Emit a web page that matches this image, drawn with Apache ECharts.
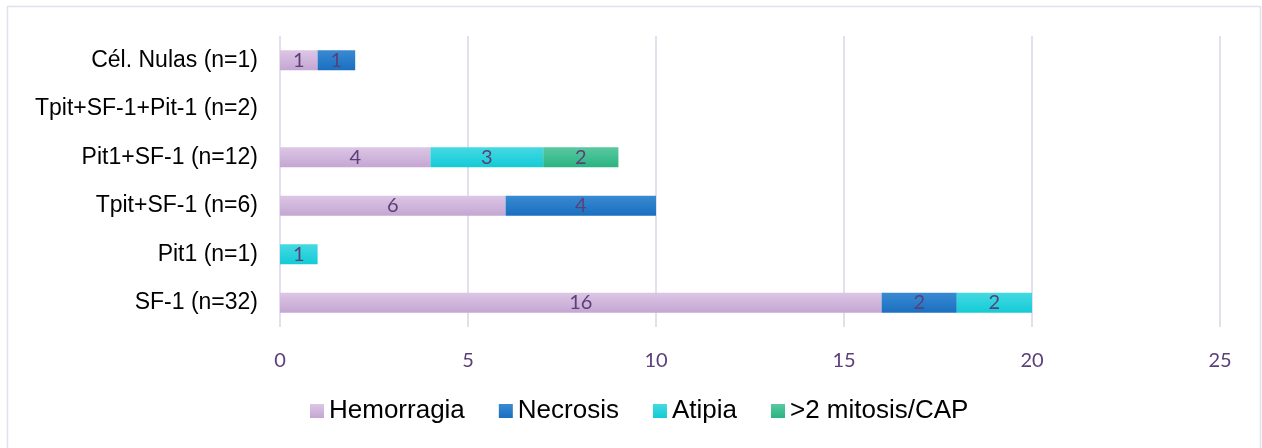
<!DOCTYPE html>
<html>
<head>
<meta charset="utf-8">
<script src="https://cdn.jsdelivr.net/npm/echarts@6/dist/echarts.min.js"></script>
<style>
  html, body { margin: 0; padding: 0; background: #fff; }
  #chart { width: 1262px; height: 448px; }
</style>
</head>
<body>
<div id="chart"></div>
<script>
// Categories listed bottom to top (category axis runs upward)
const categories = [
  'SF-1 (n=32)',
  'Pit1 (n=1)',
  'Tpit+SF-1 (n=6)',
  'Pit1+SF-1 (n=12)',
  'Tpit+SF-1+Pit-1 (n=2)',
  'Cél. Nulas (n=1)'
];
const hemorragia = [16, null, 6, 4, null, 1];
const necrosis   = [2, null, 4, null, null, 1];
const atipia     = [2, 1, null, 3, null, null];
const mitosis    = [null, null, null, 2, null, null];
const xTicks = [0, 5, 10, 15, 20, 25];

const grad = (top, bottom) => new echarts.graphic.LinearGradient(0, 0, 0, 1, [
  { offset: 0, color: top },
  { offset: 1, color: bottom }
]);

const labelStyle = {
  show: true,
  position: 'inside',
  color: '#5b3f78',
  fontFamily: 'Lato',
  fontSize: 20,
  formatter: p => p.value
};

function barSeries(name, data, top, bottom) {
  return {
    name: name,
    type: 'bar',
    stack: 'total',
    barWidth: 20,
    data: data,
    itemStyle: { color: grad(top, bottom) },
    label: labelStyle,
    emphasis: { disabled: true }
  };
}

const chart = echarts.init(document.getElementById('chart'));
chart.setOption({
  animation: false,
  graphic: [{
    type: 'rect',
    shape: { x: 7.5, y: 6.5, width: 1253, height: 460 },
    style: { fill: 'none', stroke: '#e4deed', lineWidth: 1.5 },
    silent: true
  }],
  grid: { left: 280, right: 42, top: 36, bottom: 121, containLabel: false },
  legend: {
    bottom: 19,
    left: 305,
    itemWidth: 14,
    itemHeight: 14,
    itemGap: 34,
    icon: 'rect',
    textStyle: { fontFamily: 'Liberation Sans', fontSize: 26, color: '#000' },
    data: ['Hemorragia', 'Necrosis', 'Atipia', '>2 mitosis/CAP']
  },
  xAxis: {
    type: 'value',
    min: xTicks[0],
    max: xTicks[xTicks.length - 1],
    interval: xTicks[1] - xTicks[0],
    axisLine: { show: false },
    axisTick: { show: false },
    splitLine: { lineStyle: { color: '#e4deed', width: 2 } },
    axisLabel: { color: '#5b3f78', fontFamily: 'Lato', fontSize: 20, margin: 24 }
  },
  yAxis: {
    type: 'category',
    data: categories,
    axisLine: { show: false },
    axisTick: { show: false },
    axisLabel: { color: '#000', fontFamily: 'Liberation Sans', fontSize: 23, margin: 22 }
  },
  series: [
    barSeries('Hemorragia', hemorragia, '#dcc6e5', '#c4a6d2'),
    barSeries('Necrosis', necrosis, '#3a8ad2', '#1a6fc0'),
    barSeries('Atipia', atipia, '#45d9e2', '#13cbd6'),
    barSeries('>2 mitosis/CAP', mitosis, '#58c9a0', '#2bb382')
  ]
});
</script>
</body>
</html>
